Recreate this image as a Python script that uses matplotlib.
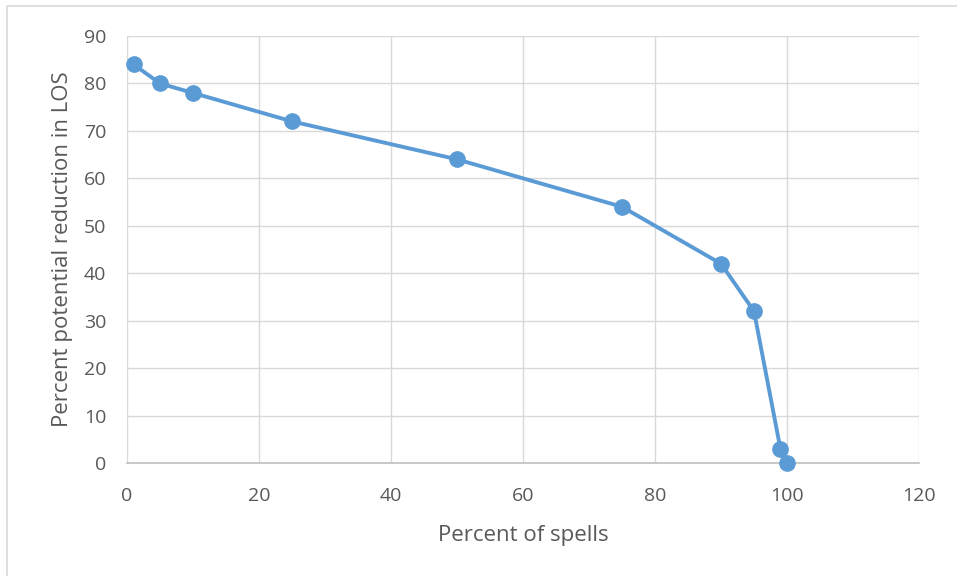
import matplotlib.pyplot as plt
from matplotlib.patches import Rectangle

spells = [1, 5, 10, 25, 50, 75, 90, 95, 99, 100]
reduction = [84, 80, 78, 72, 64, 54, 42, 32, 3, 0]
xticks = [0, 20, 40, 60, 80, 100, 120]
yticks = [0, 10, 20, 30, 40, 50, 60, 70, 80, 90]

W, H = 957, 576
TEXT = '#595959'
plt.rcParams['font.family'] = ['Open Sans', 'DejaVu Sans']

fig = plt.figure(figsize=(W / 100, H / 100), dpi=100, facecolor='white')

# outer chart frame (only top and left edges visible in the crop)
fig.patches.append(Rectangle((7 / W, -0.1), 1.2, (H - 6) / H + 0.1,
                             transform=fig.transFigure, fill=False,
                             edgecolor='#d9d9d9', linewidth=1.2))

ax = fig.add_axes([127 / W, (H - 463) / H, (919 - 127) / W, (463 - 36) / H])
ax.set_xlim(0, 120)
ax.set_ylim(0, 90)
ax.set_xticks(xticks)
ax.set_yticks(yticks)
ax.grid(True, color='#d9d9d9', linewidth=1.0)
ax.set_axisbelow(True)
for side in ['top', 'right', 'left']:
    ax.spines[side].set_visible(False)
ax.spines['bottom'].set_color('#bfbfbf')
ax.spines['bottom'].set_linewidth(1.2)
ax.tick_params(length=0, labelsize=14, labelcolor=TEXT)
ax.tick_params(axis='x', pad=17)
ax.tick_params(axis='y', pad=15)

ax.plot(spells, reduction, color='#5b9bd5', linewidth=2.8,
        marker='o', markersize=11, clip_on=False, zorder=3)

ax.set_xlabel('Percent of spells', fontsize=16, color=TEXT, labelpad=15)
ax.set_ylabel('Percent potential reduction in LOS', fontsize=16,
              color=TEXT, labelpad=8)

fig.savefig('out.png', dpi=100, facecolor='white')
